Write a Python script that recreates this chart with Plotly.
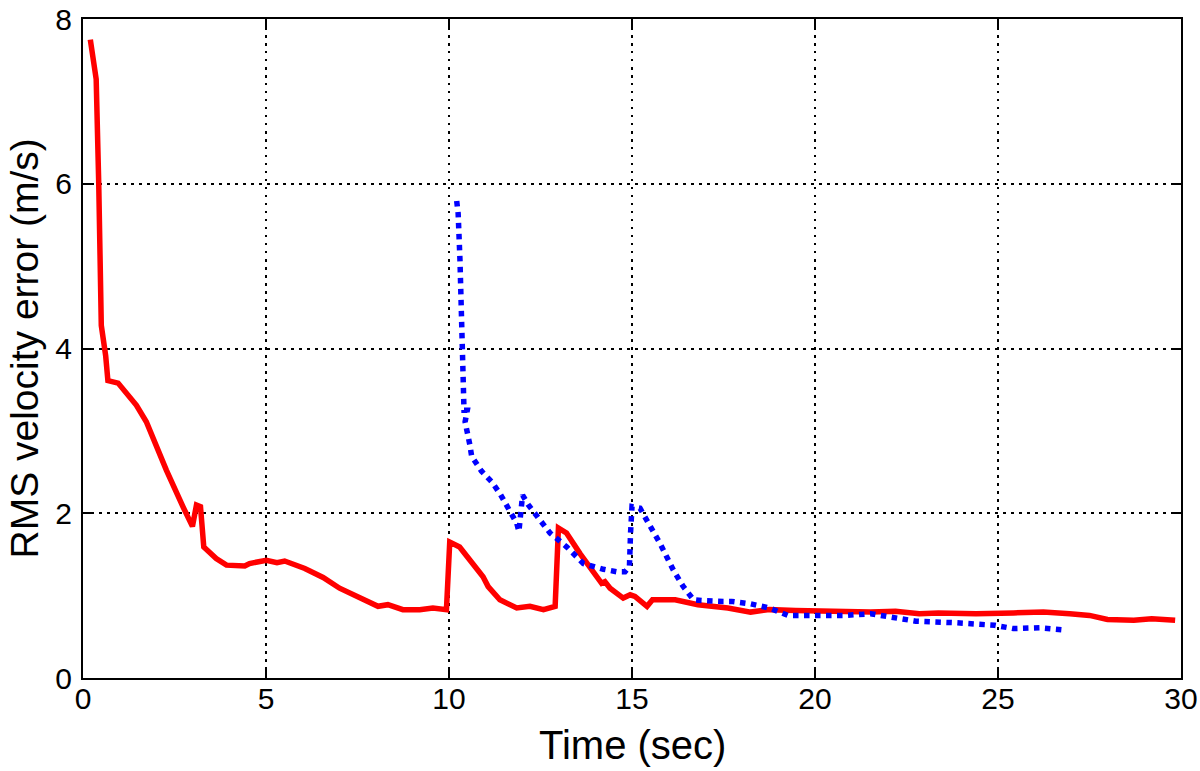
import plotly.graph_objects as go

red_t = [0.2, 0.36, 0.43, 0.5, 0.62, 0.68, 0.96, 1.2, 1.46, 1.73, 1.96, 2.28, 2.73, 2.99, 3.10, 3.21,
         3.30, 3.64, 3.92, 4.42, 4.55, 5.01, 5.3, 5.51, 6.06, 6.56, 7.01, 7.56, 8.06, 8.33, 8.74,
         9.2, 9.56, 9.93, 10.02, 10.29, 10.61, 10.93, 11.07, 11.39, 11.85, 12.21, 12.58, 12.9,
         12.99, 13.21, 13.58, 13.94, 14.17, 14.26, 14.4, 14.76, 14.95, 15.08, 15.26, 15.41, 15.56,
         16.18, 16.8, 17.62, 18.24, 18.75, 19.47, 20.29, 21.52, 22.2, 22.85, 23.37, 24.4, 25.42,
         26.24, 26.96, 27.5, 27.99, 28.71, 29.2, 29.53, 29.84]
red_v = [7.75, 7.27, 6.0, 4.28, 3.91, 3.61, 3.58, 3.45, 3.31, 3.11, 2.85, 2.52, 2.08, 1.84, 2.10, 2.08,
         1.59, 1.45, 1.37, 1.36, 1.39, 1.43, 1.40, 1.42, 1.33, 1.22, 1.09, 0.97, 0.87, 0.89, 0.83,
         0.83, 0.85, 0.83, 1.65, 1.59, 1.41, 1.23, 1.11, 0.95, 0.85, 0.87, 0.83, 0.87,
         1.82, 1.76, 1.51, 1.29, 1.15, 1.17, 1.09, 0.97, 1.01, 0.99, 0.93, 0.87, 0.95,
         0.95, 0.89, 0.85, 0.80, 0.83, 0.82, 0.81, 0.80, 0.81, 0.78, 0.79, 0.78, 0.79,
         0.80, 0.78, 0.76, 0.71, 0.70, 0.72, 0.71, 0.70]

blue_t = [10.21, 10.25, 10.3, 10.33, 10.36, 10.39, 10.41, 10.5, 10.44, 10.57, 10.62, 10.89, 11.17,
          11.39, 11.58, 11.71, 11.85, 11.91, 11.96, 12.01, 12.17, 12.4, 12.76, 13.22, 13.67, 14.22,
          14.58, 14.81, 14.93, 14.96, 15.0, 15.22, 15.45, 15.77, 16.13, 16.4, 16.68, 16.9, 17.5,
          17.72, 18.24, 18.75, 19.26, 19.98, 20.8, 21.52, 22.14, 22.75, 23.88, 24.91, 25.42, 26.14,
          26.86]
blue_v = [5.79, 5.64, 5.07, 4.51, 4.02, 3.54, 3.25, 3.25, 3.11, 2.83, 2.69, 2.51, 2.38,
          2.24, 2.10, 2.0, 1.88, 1.78, 1.96, 2.22, 2.10, 1.96, 1.76, 1.59, 1.39, 1.32,
          1.29, 1.29, 1.35, 1.76, 2.08, 2.06, 1.88, 1.63, 1.31, 1.11, 0.95, 0.94, 0.93,
          0.93, 0.90, 0.85, 0.76, 0.76, 0.76, 0.78, 0.74, 0.69, 0.67, 0.64, 0.60, 0.61,
          0.58]

x_ticks = [0, 5, 10, 15, 20, 25, 30]
y_ticks = [0, 2, 4, 6, 8]
x_title = "Time (sec)"
y_title = "RMS velocity error (m/s)"

FONT = "Liberation Sans, Arial, sans-serif"

fig = go.Figure()
fig.add_trace(go.Scatter(x=red_t, y=red_v, mode="lines",
                         line=dict(color="#ff0000", width=5.5), showlegend=False))
fig.add_trace(go.Scatter(x=blue_t, y=blue_v, mode="lines",
                         line=dict(color="#0000ff", width=5.5, dash="dot"), showlegend=False))

axis_common = dict(
    showline=True, linecolor="black", linewidth=2, mirror="ticks",
    ticks="inside", ticklen=9, tickwidth=2, tickcolor="black",
    showgrid=True, gridcolor="black", gridwidth=2, griddash="2.5px,5.5px",
    zeroline=False, automargin=False, ticklabeloverflow="allow",
    tickfont=dict(family=FONT, size=30, color="black"),
)

fig.update_xaxes(range=[0, 30], tickvals=x_ticks, ticktext=[str(v) for v in x_ticks],
                 ticklabelstandoff=-7, **axis_common)
fig.update_yaxes(range=[0, 8], tickvals=y_ticks, ticktext=[str(v) for v in y_ticks],
                 ticklabelstandoff=3, **axis_common)

fig.add_annotation(text=x_title, xref="paper", yref="paper", x=0.5, y=0,
                   yshift=-67, xanchor="center", yanchor="middle", showarrow=False,
                   font=dict(family=FONT, size=40, color="black"))
fig.add_annotation(text=y_title, xref="paper", yref="paper", x=0, y=0.5,
                   xshift=-59, xanchor="center", yanchor="middle", showarrow=False,
                   textangle=-90, font=dict(family=FONT, size=39, color="black"))

fig.update_layout(
    width=1200, height=771,
    margin=dict(l=83, r=19, t=19, b=93, autoexpand=False),
    plot_bgcolor="white", paper_bgcolor="white",
)

# remove the default 8px page margin so the 1200x771 figure fills the window exactly
fig.write_html("out.html", config={"displayModeBar": False},
               post_script="document.body.style.margin='0';document.body.style.overflow='hidden';")
